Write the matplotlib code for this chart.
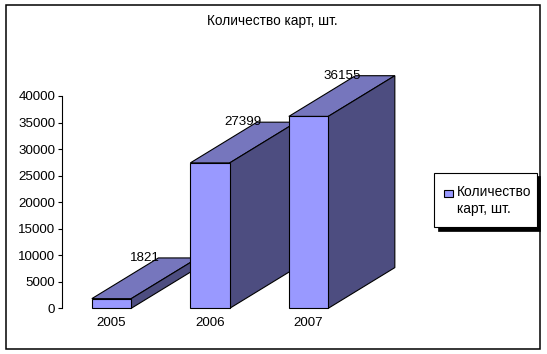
import matplotlib
matplotlib.use("Agg")
import matplotlib.pyplot as plt
from matplotlib.patches import Polygon, Rectangle
from matplotlib.legend_handler import HandlerPatch

plt.rcParams['font.family'] = ['Liberation Sans', 'DejaVu Sans']

years = ['2005', '2006', '2007']
values = [1821, 27399, 36155]
ticks = [0, 5000, 10000, 15000, 20000, 25000, 30000, 35000, 40000]
title = 'Количество карт, шт.'
legend_label = 'Количество\nкарт, шт.'

W, H = 547, 354
FRONT, TOP, SIDE = '#9999ff', '#7676bd', '#4d4d80'
fig = plt.figure(figsize=(W / 100, H / 100), dpi=100, facecolor='white')


def px_rect(x0, y0, x1, y1, **kw):
    return Rectangle((x0 / W, 1 - y1 / H), (x1 - x0) / W, (y1 - y0) / H,
                     transform=fig.transFigure, **kw)


# outer chart frame
fig.add_artist(px_rect(5.5, 4.5, 540, 349, fill=False, ec='black', lw=1.1))

ax = fig.add_axes([62.3 / W, 1 - 308.3 / H, 295.5 / W, 212.3 / H])
ax.patch.set_visible(False)
ax.set_xlim(-0.5, 2.5)
ax.set_ylim(0, 40000)
for s in ('top', 'right', 'bottom'):
    ax.spines[s].set_visible(False)
ax.spines['left'].set_linewidth(0.8)
ax.set_yticks(ticks)
ax.tick_params(axis='y', length=3, width=0.8, pad=2, labelsize=9.6, colors='black')
ax.set_xticks(range(len(years)), years)
ax.tick_params(axis='x', length=0, pad=6.5, labelsize=9.6)

BW, DX, DY = 0.4, 0.676, 7668
lw = 0.8
for i, v in enumerate(values):
    z = 3 + i
    l, r = i - BW / 2, i + BW / 2
    ax.add_patch(Polygon([(l, v), (r, v), (r + DX, v + DY), (l + DX, v + DY)],
                         fc=TOP, ec='black', lw=lw, zorder=z, clip_on=False))
    ax.add_patch(Polygon([(r, 0), (r, v), (r + DX, v + DY), (r + DX, DY)],
                         fc=SIDE, ec='black', lw=lw, zorder=z, clip_on=False))
    ax.bar(i, v, BW, color=FRONT, edgecolor='black', linewidth=lw, zorder=z + 0.5,
           clip_on=False, label=legend_label if i == 0 else None)
for i, v in enumerate(values):
    ax.text(i + DX / 2, v + DY, str(v), ha='center', va='center', fontsize=9.6,
            zorder=10, clip_on=False)

fig.text(272 / W, 1 - 21 / H, title, ha='center', va='center', fontsize=9.8)

# legend box with solid drop shadow
fig.add_artist(px_rect(437.5, 176, 540, 230.5, fc='black', ec='black', lw=0.5))
fig.add_artist(px_rect(433.5, 172.5, 536.5, 227, fc='white', ec='black', lw=0.8))


def top_line_patch(legend, orig_handle, xdescent, ydescent, width, height, fontsize):
    return Rectangle((xdescent, height + 0.12 * fontsize), width, 0.47 * fontsize)


handles, labels = ax.get_legend_handles_labels()
bar_handle = handles[0][0]
leg = fig.legend([bar_handle], labels, loc='upper left', bbox_to_anchor=(444.3 / W, 1 - 185.5 / H),
                 bbox_transform=fig.transFigure, fontsize=9.9, frameon=False,
                 borderpad=0, borderaxespad=0, handlelength=0.62, handleheight=0.5,
                 handletextpad=0.33,
                 handler_map={Rectangle: HandlerPatch(patch_func=top_line_patch)})
leg.get_texts()[0].set_linespacing(1.2)

fig.savefig('out.png', dpi=100)
